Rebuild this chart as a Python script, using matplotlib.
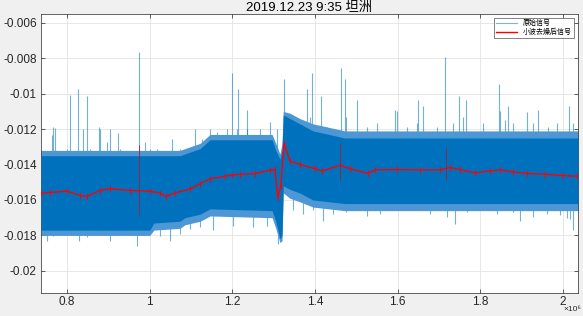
import matplotlib
matplotlib.use('Agg')
import matplotlib.pyplot as plt
from matplotlib.ticker import FuncFormatter, MultipleLocator

# x in units of 1e6 samples
band_x   = [0.737, 1.000, 1.010, 1.073, 1.085, 1.122, 1.146, 1.296, 1.305, 1.315, 1.320, 1.323, 1.339, 1.363, 1.395, 1.472, 2.036]
core_hi  = [-0.0135, -0.0135, -0.0135, -0.0135, -0.0134, -0.0131, -0.0126, -0.0126, -0.0132, -0.0137, -0.0132, -0.0112, -0.0114, -0.0117, -0.0121, -0.0125, -0.0125]
core_lo  = [-0.0177, -0.0177, -0.0173, -0.0172, -0.0170, -0.0168, -0.0165, -0.0166, -0.0172, -0.0182, -0.0180, -0.0152, -0.0154, -0.0156, -0.0160, -0.0162, -0.0162]
fringe_hi = [-0.0132, -0.0132, -0.0132, -0.0132, -0.0131, -0.0128, -0.0123, -0.0123, -0.0128, -0.0134, -0.0128, -0.0110, -0.0111, -0.0114, -0.0117, -0.0121, -0.0121]
fringe_lo = [-0.0180, -0.0180, -0.0177, -0.0176, -0.0174, -0.0172, -0.0169, -0.0170, -0.0176, -0.0184, -0.0183, -0.0156, -0.0159, -0.0161, -0.0164, -0.0166, -0.0166]

# single spikes of the raw signal (upward, then downward)
up_x   = [0.766, 0.807, 0.827, 0.848, 0.877, 0.923, 0.974, 1.199, 1.213, 1.235, 1.325, 1.380, 1.392, 1.414,
          1.463, 1.472, 1.501, 1.593, 1.649, 1.661, 1.714, 1.748, 1.765, 1.845, 1.866, 1.912, 1.939, 2.014,
          0.763, 0.771, 0.799, 0.839, 0.856, 0.880, 0.896, 0.904, 0.928, 0.989, 1.001, 1.017, 1.053, 1.073,
          1.110, 1.126, 1.146, 1.162, 1.186, 1.210, 1.235, 1.267, 1.291, 1.307,
          1.388, 1.428, 1.476, 1.525, 1.549, 1.597, 1.622, 1.646, 1.694, 1.734, 1.758, 1.807, 1.847, 1.859,
          1.879, 1.927, 1.964, 1.984, 2.024]
up_top = [-0.0119, -0.01008, -0.00973, -0.01013, -0.0119, -0.0122, -0.00764, -0.00883, -0.00973, -0.01092,
          -0.00917, -0.00973, -0.00883, -0.01013, -0.00855, -0.00917, -0.01036, -0.0109, -0.01036, -0.0107,
          -0.00792, -0.01013, -0.01036, -0.00945, -0.0107, -0.01104, -0.0109, -0.0107,
          -0.01234, -0.01196, -0.0131, -0.0120, -0.0131, -0.0120, -0.01272, -0.0120, -0.0131, -0.0127, -0.0131,
          -0.0131, -0.01253, -0.0131, -0.0120, -0.01253, -0.0120, -0.01215, -0.0120, -0.0120, -0.0120, -0.0120,
          -0.01158, -0.0120,
          -0.0113, -0.01187, -0.0113, -0.01187, -0.01168, -0.0110, -0.01187, -0.01168, -0.01187, -0.01168,
          -0.0113, -0.01168, -0.0110, -0.0115, -0.01168, -0.01168, -0.01187, -0.01168, -0.01168]
dn_x   = [0.752, 0.829, 0.873, 0.904, 0.969, 1.049, 1.073, 1.310, 1.419, 1.526, 1.738, 1.895, 2.009, 2.024,
          0.767, 0.799, 0.848, 0.928, 0.993, 1.025, 1.097, 1.122, 1.154, 1.202, 1.250, 1.283,
          1.347, 1.371, 1.396, 1.444, 1.476, 1.501, 1.557, 1.597, 1.637, 1.678, 1.718, 1.767, 1.799, 1.839,
          1.879, 1.927, 1.960, 1.992, 2.017]
dn_bot = [-0.01833, -0.01833, -0.0180, -0.0183, -0.01861, -0.01833, -0.0179, -0.0185, -0.01716, -0.0169,
          -0.01733, -0.01716, -0.0170, -0.01772,
          -0.01801, -0.01791, -0.0181, -0.01791, -0.01791, -0.01801, -0.01763, -0.01754, -0.01772, -0.01744,
          -0.01754, -0.01744,
          -0.01659, -0.01678, -0.01659, -0.01678, -0.01668, -0.0165, -0.01678, -0.01659, -0.0165, -0.01678,
          -0.01697, -0.01668, -0.0165, -0.01678, -0.01668, -0.01697, -0.01678, -0.01687, -0.01706]

# denoised (wavelet) signal
red_x = [0.737, 0.759, 0.800, 0.831, 0.848, 0.880, 0.904, 0.952, 1.000, 1.025, 1.039, 1.061, 1.097, 1.122,
         1.146, 1.182, 1.199, 1.218, 1.255, 1.291, 1.303, 1.310, 1.317, 1.325, 1.339, 1.363, 1.400, 1.417,
         1.460, 1.484, 1.528, 1.545, 1.598, 1.654, 1.702, 1.726, 1.750, 1.787, 1.823, 1.847, 1.878, 1.912,
         1.956, 1.999, 2.033]
red_y = [-0.01561, -0.01557, -0.01550, -0.01574, -0.01580, -0.01546, -0.01536, -0.01546, -0.01550, -0.01561,
         -0.01580, -0.01560, -0.01538, -0.01508, -0.01480, -0.01466, -0.01459, -0.01455, -0.01451, -0.01432,
         -0.01428, -0.01590, -0.01520, -0.01280, -0.01380, -0.01400, -0.01423, -0.01436, -0.01404, -0.01423,
         -0.01450, -0.01430, -0.01428, -0.01430, -0.01430, -0.01417, -0.01428, -0.01447, -0.01436, -0.01430,
         -0.01441, -0.01450, -0.01455, -0.01462, -0.01466]
red_spike_x  = [0.974, 1.460, 1.717]
red_spike_lo = [-0.01687, -0.01489, -0.01489]
red_spike_hi = [-0.0129, -0.01279, -0.01302]

blue = '#0072BD'

plt.rcParams['font.family'] = ['Liberation Sans', 'Noto Sans CJK SC', 'DejaVu Sans']

fig = plt.figure(figsize=(5.83, 3.16), dpi=100, facecolor='#F0F0F0')
ax = fig.add_axes([41/583, 23/316, 537/583, 279/316])

ax.vlines(up_x, -0.015, up_top, color=blue, lw=0.8, alpha=0.55, zorder=1)
ax.vlines(dn_x, -0.015, dn_bot, color=blue, lw=0.8, alpha=0.55, zorder=1)
ax.fill_between(band_x, fringe_lo, fringe_hi, color='#4C97D4', lw=0, zorder=2)
ax.fill_between(band_x, core_lo, core_hi, color=blue, lw=0, zorder=3)
ax.plot([], [], color=blue, lw=0.8, alpha=0.5, label='原始信号')

ax.plot(red_x, red_y, color='red', lw=1.0, zorder=4, label='小波去燥后信号')
ax.vlines(red_x, [v - 0.00018 for v in red_y], [v + 0.00018 for v in red_y], color='red', lw=0.6, zorder=4)
ax.vlines(red_spike_x, red_spike_lo, red_spike_hi, color='#A0203A', lw=0.6, zorder=4)

ax.set_xlim(0.737, 2.036)
ax.set_ylim(-0.02125, -0.0055)
ax.xaxis.set_major_locator(MultipleLocator(0.2))
ax.yaxis.set_major_locator(MultipleLocator(0.002))
ax.xaxis.set_major_formatter(FuncFormatter(lambda v, p: '%g' % round(v, 3)))
ax.yaxis.set_major_formatter(FuncFormatter(lambda v, p: '%g' % round(v, 4)))
ax.tick_params(direction='in', length=3, width=0.5, labelsize=8.5, colors='#262626',
               top=True, right=True, pad=3)
ax.tick_params(axis='x', pad=2)
ax.grid(True, color='#E3E3E3', lw=0.6)
ax.set_axisbelow(True)
for s in ax.spines.values():
    s.set_color('#262626')
    s.set_linewidth(0.5)

fig.text(581/583, 1 - 306/316, '×10⁶', ha='right', va='top', fontsize=6, color='#262626')
ax.set_title('2019.12.23 9:35 坦洲', fontsize=9.5, pad=2, color='black')

leg = ax.legend(loc='upper right', fontsize=5, frameon=True, fancybox=False, borderaxespad=0.6,
                handlelength=3.0, borderpad=0.3, labelspacing=0.2)
leg.get_frame().set_edgecolor('#262626')
leg.get_frame().set_linewidth(0.5)

fig.savefig('out.png', dpi=100, facecolor=fig.get_facecolor())
